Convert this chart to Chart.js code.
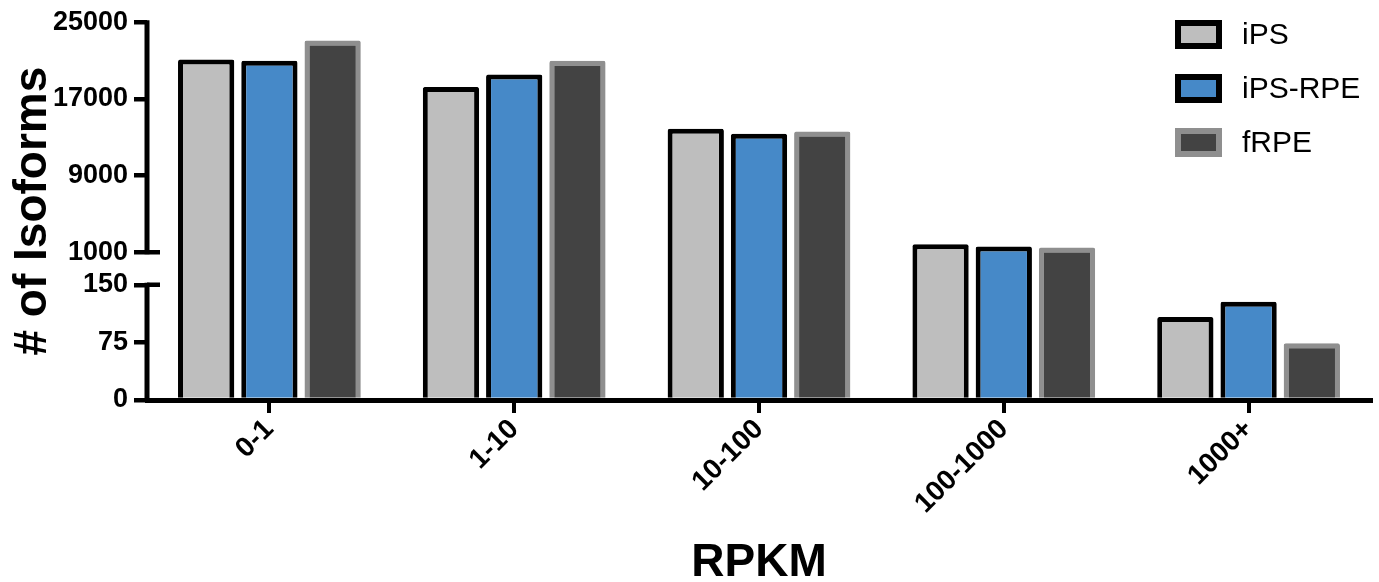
<!DOCTYPE html>
<html>
<head>
<meta charset="utf-8">
<title>Isoforms by RPKM</title>
<script src="https://cdn.jsdelivr.net/npm/chart.js@4.4.1/dist/chart.umd.min.js"></script>
<style>
  html, body { margin: 0; padding: 0; background: #fff; }
  #wrap { width: 1379px; height: 582px; }
</style>
</head>
<body>
<div id="wrap"><canvas id="isoChart" width="1379" height="582"></canvas></div>
<script>
/* ================= DATA ================= */
const categories = ["0-1", "1-10", "10-100", "100-1000", "1000+"];
const ipsValues = [21100, 18250, 13880, 1850, 108];
const ipsRpeValues = [20980, 19540, 13360, 1600, 128];
const frpeValues = [23100, 20990, 13600, 1500, 74];
const yTicks = [0, 75, 150, 1000, 9000, 17000, 25000];

// broken y axis: lower part 0-150, upper part 1000-25000
const lowerMax = 150;
const upperMin = 1000;
const upperMax = 25000;

Chart.defaults.font.family = "'Liberation Sans', Arial, sans-serif";
Chart.defaults.color = "#000";

/* ================= BROKEN SCALE ================= */
class BrokenScale extends Chart.LinearScale {
  static id = "broken";
  static defaults = Chart.LinearScale.defaults;

  buildTicks() {
    return yTicks.map(v => ({ value: v }));
  }

  toDecimal(v) {
    const lo = 0.305, gap = 0.086; // share of the axis height
    if (v <= lowerMax) return v / lowerMax * lo;
    if (v <= upperMin) return lo + (v - lowerMax) / (upperMin - lowerMax) * gap;
    return lo + gap + (v - upperMin) / (upperMax - upperMin) * (1 - lo - gap);
  }

  getPixelForValue(v) {
    return this.getPixelForDecimal(this.toDecimal(v));
  }
}
Chart.register(BrokenScale);

/* ================= AXIS LINE WITH BREAK ================= */
const brokenAxis = {
  id: "brokenAxis",
  afterDatasetsDraw(chart) {
    const { ctx, chartArea } = chart;
    const y = chart.scales.y;
    const ax = chartArea.left;
    ctx.save();
    ctx.strokeStyle = "#000";
    ctx.lineCap = "butt";
    ctx.lineWidth = 5;
    ctx.beginPath();
    ctx.moveTo(ax, y.getPixelForValue(upperMax) - 2);
    ctx.lineTo(ax, y.getPixelForValue(upperMin) + 2);
    ctx.moveTo(ax, y.getPixelForValue(lowerMax) - 2);
    ctx.lineTo(ax, y.getPixelForValue(0) + 2);
    ctx.stroke();
    // caps on the inner side at the break
    ctx.lineWidth = 4.5;
    ctx.beginPath();
    [upperMin, lowerMax].forEach(v => {
      const py = y.getPixelForValue(v);
      ctx.moveTo(ax, py);
      ctx.lineTo(ax + 13, py);
    });
    ctx.stroke();
    ctx.restore();
  }
};

/* ================= LEGEND ================= */
const boxLegend = {
  id: "boxLegend",
  afterDraw(chart) {
    const ctx = chart.ctx;
    const x0 = chart.chartArea.right - 196;
    ctx.save();
    chart.data.datasets.forEach((ds, i) => {
      const cy = 34.5 + i * 54;
      ctx.fillStyle = ds.borderColor;
      ctx.fillRect(x0, cy - 14.5, 47, 29);
      ctx.fillStyle = ds.backgroundColor;
      ctx.fillRect(x0 + 6, cy - 8.5, 35, 17);
      ctx.fillStyle = "#000";
      ctx.font = "30px 'Liberation Sans', Arial, sans-serif";
      ctx.textBaseline = "middle";
      ctx.fillText(ds.label, x0 + 67, cy + 1);
    });
    ctx.restore();
  }
};

/* ================= CHART ================= */
new Chart(document.getElementById("isoChart"), {
  type: "bar",
  data: {
    labels: categories,
    datasets: [
      { label: "iPS", data: ipsValues, backgroundColor: "#bebebe", borderColor: "#000" },
      { label: "iPS-RPE", data: ipsRpeValues, backgroundColor: "#4689c8", borderColor: "#000" },
      { label: "fRPE", data: frpeValues, backgroundColor: "#434343", borderColor: "#8f8f8f" }
    ]
  },
  options: {
    responsive: false,
    animation: false,
    events: [],
    layout: { padding: { top: 20, right: 8, left: 0, bottom: 0 } },
    datasets: {
      bar: {
        borderWidth: 5,
        borderRadius: 2,
        borderSkipped: "start",
        categoryPercentage: 0.775,
        barPercentage: 0.89
      }
    },
    plugins: {
      legend: { display: false },
      tooltip: { enabled: false }
    },
    scales: {
      x: {
        offset: true,
        grid: { offset: false, drawOnChartArea: false, tickLength: 13, lineWidth: 4, color: "#000" },
        border: { display: true, width: 5, color: "#000" },
        ticks: {
          color: "#000",
          font: { size: 28, weight: "bold" },
          minRotation: 45,
          maxRotation: 45,
          padding: 0
        },
        title: {
          display: true,
          text: "RPKM",
          color: "#000",
          font: { size: 46, weight: "bold", lineHeight: 0.8 },
          padding: 0
        },
        afterFit: s => { s.height = 182; }
      },
      y: {
        type: "broken",
        min: 0,
        max: upperMax,
        grid: { drawOnChartArea: false, tickLength: 13, lineWidth: 4.5, color: "#000" },
        border: { display: false },
        ticks: {
          autoSkip: false,
          color: "#000",
          font: { size: 27, weight: "bold" },
          padding: 6,
          callback: v => String(v)
        },
        title: {
          display: true,
          text: "# of Isoforms",
          color: "#000",
          font: { size: 46, weight: "bold" },
          padding: { top: 6, bottom: 0 }
        },
        afterFit: s => { s.width = 147; }
      }
    }
  },
  plugins: [brokenAxis, boxLegend]
});
</script>
</body>
</html>
